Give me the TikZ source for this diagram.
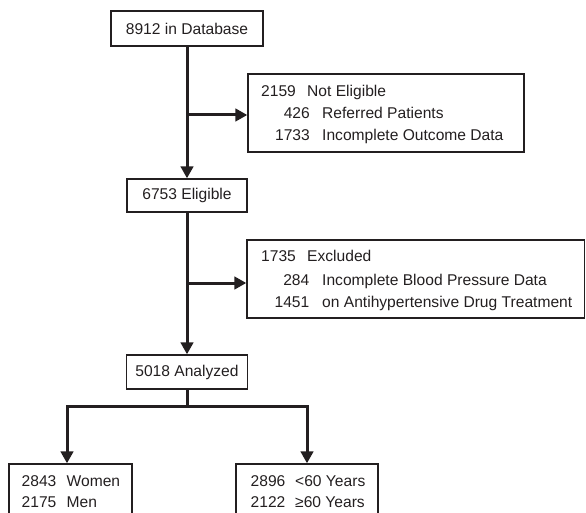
\documentclass[tikz,border=0pt]{standalone}
\usepackage{fontspec}
\setmainfont{Liberation Sans}
\usetikzlibrary{arrows.meta}
\definecolor{ink}{HTML}{231F20}
\begin{document}
\begin{tikzpicture}[x=1pt,y=-1pt,
  boxnode/.style={draw=ink, line width=1.4pt, inner sep=0pt},
  txt/.style={inner sep=0pt, text=ink, font=\fontsize{15.6}{18}\selectfont},
  conn/.style={draw=ink, line width=3pt, line join=miter},
  arr/.style={conn, -{Triangle[length=12pt,width=12.5pt]}}]
\path[use as bounding box] (0,0) rectangle (586,513);
\clip (0,0) rectangle (586,513);
% boxes
\node[boxnode, minimum width=152pt, minimum height=35pt, txt] (b1) at (187,28.5) {8912 in Database};
\node[boxnode, minimum width=276pt, minimum height=78pt] (b2) at (386,113) {};
\node[boxnode, minimum width=120pt, minimum height=33pt, txt] (b3) at (187,195.5) {6753 Eligible};
\node[boxnode, minimum width=337.5pt, minimum height=78pt] (b4) at (415.75,279) {};
\node[boxnode, minimum width=121pt, minimum height=34pt, txt] (b5) at (187,372) {5018 Analyzed};
\node[boxnode, minimum width=123pt, minimum height=66pt] (b6) at (70.5,497) {};
\node[boxnode, minimum width=142pt, minimum height=66pt] (b7) at (307,497) {};
% texts in box 2
\node[txt, anchor=base west] (t21) at (261,96.5) {2159};
\node[txt, anchor=base west] (t21b) at (307,96.5) {Not Eligible};
\node[txt, anchor=base east] (t22) at (310,118.5) {426};
\node[txt, anchor=base west] (t22b) at (322,118.5) {Referred Patients};
\node[txt, anchor=base east] (t23) at (310,141) {1733};
\node[txt, anchor=base west] (t23b) at (322,141) {Incomplete Outcome Data};
% texts in box 4
\node[txt, anchor=base west] (t41) at (261,261.5) {1735};
\node[txt, anchor=base west] (t41b) at (307,261.5) {Excluded};
\node[txt, anchor=base east] (t42) at (309.5,285) {284};
\node[txt, anchor=base west] (t42b) at (322,285) {Incomplete Blood Pressure Data};
\node[txt, anchor=base east] (t43) at (309.5,307.5) {1451};
\node[txt, anchor=base west] (t43b) at (322,307.5) {on Antihypertensive Drug Treatment};
% texts in box 6
\node[txt, anchor=base west] (t61) at (21.5,486.5) {2843};
\node[txt, anchor=base west] (t61b) at (66.5,486.5) {Women};
\node[txt, anchor=base west] (t62) at (21.5,507) {2175};
\node[txt, anchor=base west] (t62b) at (66.5,507) {Men};
% texts in box 7
\node[txt, anchor=base west] (t71) at (250.5,486.5) {2896};
\node[txt, anchor=base west] (t71b) at (295,486.5) {<60 Years};
\node[txt, anchor=base west] (t72) at (250.5,507) {2122};
\node[txt, anchor=base west] (t72b) at (295,507) {≥60 Years};
% connectors
\draw[arr] (b1.south) -- (b3.north);
\coordinate (j1) at (187,115);
\draw[arr] (j1) -- (j1 -| b2.west);
\draw[arr] (b3.south) -- (b5.north);
\coordinate (j2) at (187,283);
\draw[arr] (j2) -- (j2 -| b4.west);
\coordinate (s) at (187,406);
\coordinate (sl) at (67,406);
\coordinate (sr) at (307,406);
\draw[conn] (b5.south) -- (s);
\draw[arr] (s) -- (sl) -- (sl |- b6.north);
\draw[arr] (s) -- (sr) -- (sr |- b7.north);
\end{tikzpicture}
\end{document}
